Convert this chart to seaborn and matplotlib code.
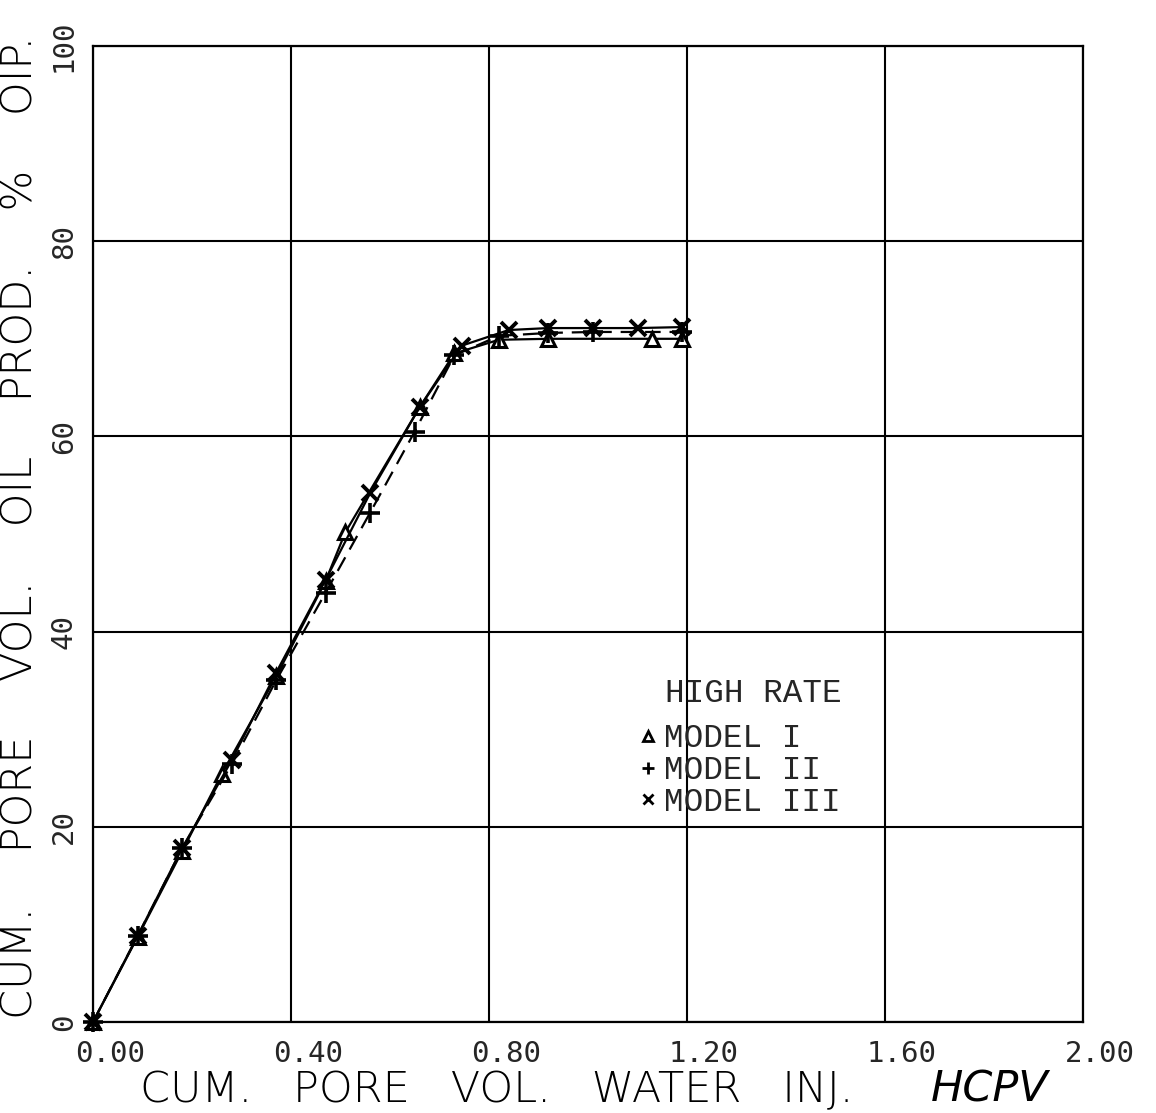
import numpy as np
import pandas as pd
import matplotlib
matplotlib.use("Agg")
import matplotlib.pyplot as plt
import matplotlib.transforms as mtransforms
from matplotlib.lines import Line2D
import seaborn as sns

# Cumulative water injected (HCPV) vs cumulative oil produced (% OIP), high rate runs
model1_pv = [0.0, 0.09, 0.18, 0.26, 0.37, 0.47, 0.51, 0.66, 0.73, 0.82, 0.92, 1.13, 1.19]
model1_oil = [0.0, 8.7, 17.5, 25.4, 35.4, 45.2, 50.2, 63.0, 68.5, 69.9, 70.0, 70.0, 70.0]

model2_pv = [0.0, 0.09, 0.18, 0.28, 0.37, 0.47, 0.56, 0.65, 0.73, 0.82, 0.92, 1.01, 1.19]
model2_oil = [0.0, 8.8, 17.8, 26.4, 35.0, 44.0, 52.2, 60.5, 68.3, 70.3, 70.6, 70.7, 70.7]

model3_pv = [0.0, 0.09, 0.18, 0.28, 0.37, 0.47, 0.56, 0.66, 0.745, 0.84, 0.92, 1.01, 1.10, 1.19]
model3_oil = [0.0, 8.8, 17.8, 26.8, 35.8, 45.3, 54.2, 63.0, 69.3, 70.9, 71.1, 71.1, 71.1, 71.2]

model_names = ["MODEL I", "MODEL II", "MODEL III"]
legend_title = "HIGH RATE"
x_ticks = [0.0, 0.4, 0.8, 1.2, 1.6, 2.0]
y_ticks = [0, 20, 40, 60, 80, 100]

sns.set_theme(style="white")
plt.rcParams["font.family"] = ["DejaVu Sans"]

W, H, DPI = 1156, 1113, 100
fig = plt.figure(figsize=(W / DPI, H / DPI), dpi=DPI, facecolor="white")
ax = fig.add_axes([93 / W, 1 - 1022 / H, (1083 - 93) / W, (1022 - 46) / H])
ax.set_facecolor("white")

series = [
    (model1_pv, model1_oil, dict(linestyle="-", marker="^", markersize=10,
                                 markerfacecolor="white", markeredgewidth=2.2)),
    (model2_pv, model2_oil, dict(linestyle=(0, (7, 4)), marker="+", markersize=14,
                                 markeredgewidth=2.6)),
    (model3_pv, model3_oil, dict(linestyle="-", marker="x", markersize=12,
                                 markeredgewidth=2.8)),
]
for (xs, ys, style), name in zip(series, model_names):
    df = pd.DataFrame({"pv": xs, "oil": ys})
    sns.lineplot(data=df, x="pv", y="oil", ax=ax, color="black", linewidth=1.6,
                 sort=False, estimator=None, markeredgecolor="black",
                 clip_on=False, zorder=3, **style)

ax.set_xlim(0, 2.0)
ax.set_ylim(0, 100)
ax.set_xticks(x_ticks)
ax.set_yticks(y_ticks)
ax.set_xticks(np.arange(0, 2.0001, 0.08), minor=True)
ax.set_yticks(np.arange(0, 100.001, 4), minor=True)
ax.set_xticklabels([f"{v:.2f}" for v in x_ticks])
ax.set_yticklabels([f"{v:d}" for v in y_ticks])
ax.grid(True, which="major", color="black", linewidth=1.5)
for s in ax.spines.values():
    s.set_color("black")
    s.set_linewidth(1.6)
ax.tick_params(which="both", direction="out", length=10, width=1.5, color="black")
ax.tick_params(axis="x", which="major", pad=3, labelsize=21)
ax.tick_params(axis="y", which="major", pad=1, labelsize=21)
ax.set_xlabel("")
ax.set_ylabel("")

shift = mtransforms.ScaledTranslation(17 / DPI, 0, fig.dpi_scale_trans)
for lab in ax.get_xticklabels():
    lab.set_family("DejaVu Sans Mono")
    lab.set_transform(lab.get_transform() + shift)
for lab in ax.get_yticklabels():
    lab.set_family("DejaVu Sans Mono")
    lab.set_rotation(90)
    lab.set_va("center")

label_kw = dict(fontsize=31, color="black", fontweight="light")
fig.text(140 / W, 1 - 1102 / H, "CUM.   PORE   VOL.   WATER   INJ.", ha="left",
         va="baseline", **label_kw)
fig.text(1048 / W, 1 - 1102 / H, "HCPV", ha="right", va="baseline",
         style="italic", **label_kw)
fig.text(41 / W, 1 - 527 / H, "CUM.    PORE    VOL.    OIL    PROD.    %    OIP.",
         rotation=90, ha="right", va="center", **label_kw)

# Legend
mono = "Liberation Mono"
handles = [
    Line2D([], [], color="black", linestyle="none", marker="^", markersize=7,
           markerfacecolor="white", markeredgewidth=2),
    Line2D([], [], color="black", linestyle="none", marker="+", markersize=9,
           markeredgewidth=2),
    Line2D([], [], color="black", linestyle="none", marker="x", markersize=7,
           markeredgewidth=2),
]
leg = ax.legend(handles, model_names, loc="upper left",
                bbox_to_anchor=(622 / W, 1 - 707 / H), bbox_transform=fig.transFigure,
                frameon=False, borderpad=0, handlelength=0.6, handletextpad=0.2,
                labelspacing=0.02, prop={"family": mono, "size": 23.5})
fig.text(665 / W, 1 - 693 / H, legend_title, ha="left", va="center",
         family=mono, fontsize=23.5)

fig.savefig("out.png", dpi=DPI, facecolor="white")
